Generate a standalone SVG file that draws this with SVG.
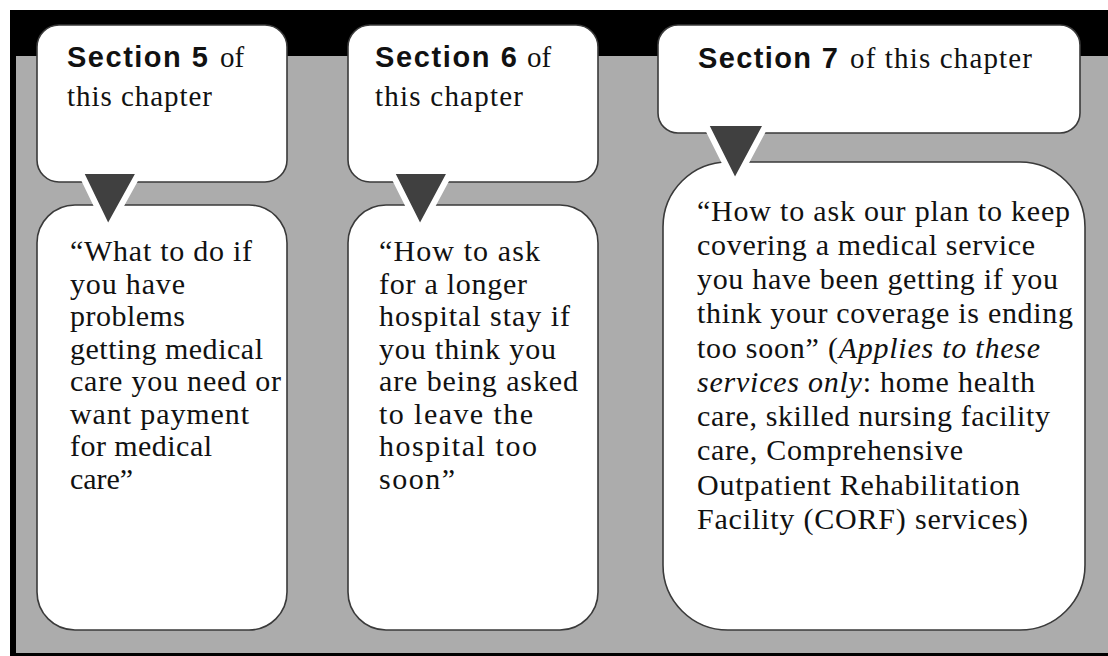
<svg xmlns="http://www.w3.org/2000/svg" width="1108" height="656" viewBox="0 0 1108 656">
<style>
.box{fill:#ffffff;stroke:#3a3a3a;stroke-width:1.6}
.hd{font-family:"Liberation Sans",Arial,sans-serif;font-weight:bold;font-size:29px;fill:#111}
.sf{font-family:"Liberation Serif","Times New Roman",serif;font-size:29px;fill:#111}
.bd{font-family:"Liberation Serif","Times New Roman",serif;font-size:30px;fill:#111}
.tri{fill:#404040;stroke:#ffffff;stroke-width:6;stroke-linejoin:miter}
.it{font-style:italic}
</style>
<rect x="0" y="0" width="1108" height="656" fill="#ffffff"/>
<rect x="10" y="10" width="1098" height="646" fill="#000000"/>
<rect x="16" y="56" width="1092" height="597" fill="#acacac"/>

<g id="sec5-head">
<rect class="box" x="37" y="25" width="250" height="157" rx="22"/>
<text x="67" y="67"><tspan class="hd" textLength="141" lengthAdjust="spacing">Section 5</tspan></text>
<text class="sf" x="220" y="67">of</text>
<text class="sf" x="67" y="106" textLength="145" lengthAdjust="spacing">this chapter</text>
</g>
<g id="sec6-head">
<rect class="box" x="348" y="25" width="250" height="157" rx="22"/>
<text x="375" y="67"><tspan class="hd" textLength="142" lengthAdjust="spacing">Section 6</tspan></text>
<text class="sf" x="527" y="67">of</text>
<text class="sf" x="375" y="106" textLength="148" lengthAdjust="spacing">this chapter</text>
</g>
<g id="sec7-head">
<rect class="box" x="658" y="25" width="422" height="108" rx="20"/>
<text x="698" y="68"><tspan class="hd" textLength="140" lengthAdjust="spacing">Section 7</tspan></text>
<text class="sf" x="850" y="68" textLength="182" lengthAdjust="spacing">of this chapter</text>
</g>

<g id="sec5-body">
<rect class="box" x="37" y="205" width="250" height="425" rx="38"/>
<text class="bd" x="70" y="261" textLength="182" lengthAdjust="spacing">“What to do if</text>
<text class="bd" x="70" y="294" textLength="115" lengthAdjust="spacing">you have</text>
<text class="bd" x="70" y="326" textLength="115" lengthAdjust="spacing">problems</text>
<text class="bd" x="70" y="359" textLength="193" lengthAdjust="spacing">getting medical</text>
<text class="bd" x="70" y="391" textLength="211" lengthAdjust="spacing">care you need or</text>
<text class="bd" x="70" y="424" textLength="179" lengthAdjust="spacing">want payment</text>
<text class="bd" x="70" y="456" textLength="142" lengthAdjust="spacing">for medical</text>
<text class="bd" x="70" y="489" textLength="63" lengthAdjust="spacing">care”</text>
</g>
<g id="sec6-body">
<rect class="box" x="348" y="205" width="250" height="425" rx="38"/>
<text class="bd" x="379" y="261" textLength="161" lengthAdjust="spacing">“How to ask</text>
<text class="bd" x="379" y="294" textLength="148" lengthAdjust="spacing">for a longer</text>
<text class="bd" x="379" y="326" textLength="191" lengthAdjust="spacing">hospital stay if</text>
<text class="bd" x="379" y="359" textLength="177" lengthAdjust="spacing">you think you</text>
<text class="bd" x="379" y="391" textLength="199" lengthAdjust="spacing">are being asked</text>
<text class="bd" x="379" y="424" textLength="154" lengthAdjust="spacing">to leave the</text>
<text class="bd" x="379" y="456" textLength="158" lengthAdjust="spacing">hospital too</text>
<text class="bd" x="379" y="489" textLength="76" lengthAdjust="spacing">soon”</text>
</g>
<g id="sec7-body">
<rect class="box" x="663" y="162" width="422" height="468" rx="65"/>
<text class="bd" x="697" y="221" textLength="373" lengthAdjust="spacing">“How to ask our plan to keep</text>
<text class="bd" x="697" y="255" textLength="338" lengthAdjust="spacing">covering a medical service</text>
<text class="bd" x="697" y="289" textLength="361" lengthAdjust="spacing">you have been getting if you</text>
<text class="bd" x="697" y="323" textLength="376" lengthAdjust="spacing">think your coverage is ending</text>
<text class="bd" x="697" y="358" textLength="343" lengthAdjust="spacing">too soon” (<tspan class="it">Applies to these</tspan></text>
<text class="bd" x="697" y="392" textLength="338" lengthAdjust="spacing"><tspan class="it">services only</tspan>: home health</text>
<text class="bd" x="697" y="426" textLength="353" lengthAdjust="spacing">care, skilled nursing facility</text>
<text class="bd" x="697" y="460" textLength="266" lengthAdjust="spacing">care, Comprehensive</text>
<text class="bd" x="697" y="495" textLength="323" lengthAdjust="spacing">Outpatient Rehabilitation</text>
<text class="bd" x="697" y="529" textLength="331" lengthAdjust="spacing">Facility (CORF) services)</text>
</g>

<g id="connectors">
<polygon class="tri" points="80,171 140,171 108,229"/>
<polygon class="tri" points="391,171 451,171 420,229"/>
<polygon class="tri" points="705,123 767,123 735,183"/>
</g>
</svg>
